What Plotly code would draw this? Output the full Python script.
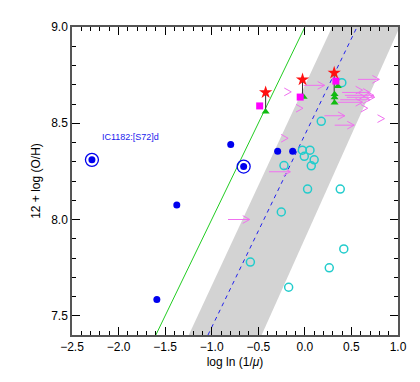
import plotly.graph_objects as go

# ---- data ----
blue_x = [-2.286, -0.796, -0.657, -1.375, -1.589, -0.292, -0.131]
blue_y = [8.31, 8.39, 8.275, 8.075, 7.585, 8.355, 8.355]
ringed_x = [-2.286, -0.657]
ringed_y = [8.31, 8.275]

cyan_x = [-0.027, 0.055, -0.006, 0.100, 0.069, -0.224, 0.029, 0.380, -0.253, -0.585, 0.418, 0.262, -0.174, 0.397, 0.176]
cyan_y = [8.36, 8.36, 8.328, 8.31, 8.279, 8.28, 8.158, 8.158, 8.039, 7.779, 7.847, 7.749, 7.648, 8.711, 8.51]

star_x = [-0.421, -0.025, 0.315]
star_y = [8.66, 8.727, 8.762]
square_x = [-0.485, -0.05, 0.333]
square_y = [8.59, 8.636, 8.719]
tri_x = [-0.421, -0.013, 0.354, 0.319, 0.319, 0.319]
tri_y = [8.56, 8.636, 8.692, 8.651, 8.634, 8.607]
link_low_y = [8.56, 8.636, 8.607]

arrow_x0 = [-0.825, -0.385, -0.013, 0.57, 0.40, 0.43, 0.45, 0.38, 0.35, 0.21, 0.32]
arrow_x1 = [-0.592, -0.156, 0.212, 0.80, 0.70, 0.74, 0.75, 0.70, 0.62, 0.43, 0.53]
arrow_y = [8.00, 8.248, 8.697, 8.728, 8.66, 8.645, 8.635, 8.622, 8.609, 8.539, 8.49]
head_x = [-0.18, -0.146, -0.02, 0.675, 0.855, 0.62, 0.64]
head_y = [8.422, 8.663, 8.578, 8.578, 8.524, 8.672, 8.64]

green_slope, green_icpt = 1.0, 9.0
dash_slope, dash_icpt = 1.0, 8.44
band_left_slope, band_left_icpt = 1.04, 8.696
band_right_slope, band_right_icpt = 1.08, 7.901

label_text = "IC1182:[S72]d"
label_x, label_y = -2.2, 8.43

xticks = [-2.5, -2.0, -1.5, -1.0, -0.5, 0.0, 0.5, 1.0]
yticks = [7.5, 8.0, 8.5, 9.0]
xr = [-2.5, 1.0]
yr = [7.4, 9.0]

# ---- figure ----
fig = go.Figure()

def xat(y, s, c):
    return (y - c) / s

# band
bx = [xat(yr[0], band_left_slope, band_left_icpt), xat(yr[1], band_left_slope, band_left_icpt),
      xat(yr[1], band_right_slope, band_right_icpt), xat(yr[0], band_right_slope, band_right_icpt)]
by = [yr[0], yr[1], yr[1], yr[0]]
fig.add_trace(go.Scatter(x=bx, y=by, fill="toself", fillcolor="#d3d3d3", mode="none", hoverinfo="skip"))

# lines
fig.add_trace(go.Scatter(x=[xat(yr[0], green_slope, green_icpt), xat(yr[1], green_slope, green_icpt)], y=yr,
                         mode="lines", line=dict(color="#22cc22", width=1)))
fig.add_trace(go.Scatter(x=[xat(yr[0], dash_slope, dash_icpt), xat(yr[1], dash_slope, dash_icpt)], y=yr,
                         mode="lines", line=dict(color="#2222ee", width=1, dash="4px,4px")))

# arrows
hx, hy = 0.075, 0.02
ax_, ay_ = [], []
for x0, x1, y in zip(arrow_x0, arrow_x1, arrow_y):
    ax_ += [x0, x1, None, x1 - hx, x1, x1 - hx, None]
    ay_ += [y, y, None, y + hy, y, y - hy, None]
for x1, y in zip(head_x, head_y):
    ax_ += [x1 - hx, x1, x1 - hx, None]
    ay_ += [y + hy, y, y - hy, None]
fig.add_trace(go.Scatter(x=ax_, y=ay_, mode="lines", line=dict(color="#f070f0", width=1)))

# link lines
lx, ly = [], []
for x, y0, y1 in zip(star_x, star_y, link_low_y):
    lx += [x, x, None]
    ly += [y0, y1, None]
fig.add_trace(go.Scatter(x=lx, y=ly, mode="lines", line=dict(color="#333333", width=1)))

fig.add_trace(go.Scatter(x=cyan_x, y=cyan_y, mode="markers",
                         marker=dict(symbol="circle-open", size=8, color="#22cccc", line=dict(width=1.5))))
fig.add_trace(go.Scatter(x=tri_x, y=tri_y, mode="markers",
                         marker=dict(symbol="triangle-up", size=7, color="#11bb11")))
fig.add_trace(go.Scatter(x=square_x, y=square_y, mode="markers",
                         marker=dict(symbol="square", size=7, color="#ff00ff")))
fig.add_trace(go.Scatter(x=star_x, y=star_y, mode="markers",
                         marker=dict(symbol="star", size=10, color="#ff1111")))
fig.add_trace(go.Scatter(x=blue_x, y=blue_y, mode="markers",
                         marker=dict(symbol="circle", size=7, color="#0000ee")))
fig.add_trace(go.Scatter(x=ringed_x, y=ringed_y, mode="markers",
                         marker=dict(symbol="circle-open", size=13, color="#0000ee", line=dict(width=1.3))))

fig.add_annotation(x=label_x, y=label_y, text=label_text, showarrow=False, xanchor="left", yanchor="middle",
                   font=dict(size=9, color="#1a1aee", family="Liberation Sans"))

axis_common = dict(showgrid=False, zeroline=False, ticks="inside", mirror="allticks", showline=True,
                   linecolor="#555555", linewidth=1.5, tickcolor="#000000", ticklen=8, tickwidth=1,
                   tickfont=dict(size=12, color="#000000", family="Liberation Sans"))
fig.update_xaxes(range=xr, tickvals=xticks, ticktext=[("−" if v < 0 else "") + f"{abs(v):.1f}" for v in xticks],
                 minor=dict(dtick=0.1, tick0=-2.5, ticklen=4, ticks="inside", tickcolor="#000000"),
                 title=dict(text="log ln (1/<i>μ</i>)", font=dict(size=12, family="Liberation Sans", color="#000000"),
                            standoff=4), **axis_common)
fig.update_yaxes(range=yr, tickvals=yticks, ticktext=[f"{v:.1f}" for v in yticks],
                 minor=dict(dtick=0.1, tick0=7.5, ticklen=4, ticks="inside", tickcolor="#000000"),
                 title=dict(text="12 + log (O/H)", font=dict(size=12, family="Liberation Sans", color="#000000"),
                            standoff=8), **axis_common)

fig.update_layout(width=420, height=382, margin=dict(l=64, r=30, t=16, b=55),
                  paper_bgcolor="white", plot_bgcolor="white", showlegend=False)

fig.write_html("out.html")
